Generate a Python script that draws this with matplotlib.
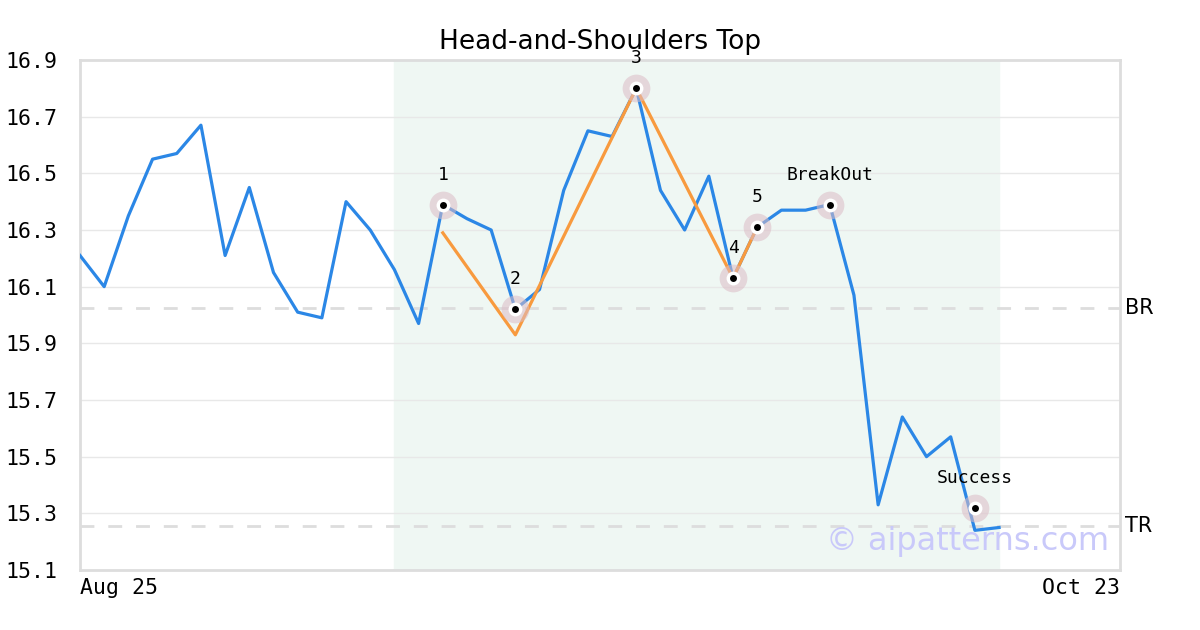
#head and shoulders top chart
import matplotlib
matplotlib.use('Agg')
import matplotlib.pyplot as plt
import numpy as np

#**************************data*************************
price = [16.21, 16.10, 16.35, 16.55, 16.57, 16.67, 16.21, 16.45, 16.15, 16.01,
         15.99, 16.40, 16.30, 16.16, 15.97, 16.39, 16.34, 16.30, 16.02, 16.09,
         16.44, 16.65, 16.63, 16.80, 16.44, 16.30, 16.49, 16.13, 16.31, 16.37,
         16.37, 16.39, 16.07, 15.33, 15.64, 15.50, 15.57, 15.24, 15.25]
pat_x = [15, 18, 23, 27, 28]
pat_y = [16.29, 15.93, 16.80, 16.13, 16.31]
mark_x = [15, 18, 23, 27, 28, 31, 37]
mark_y = [16.39, 16.02, 16.80, 16.13, 16.31, 16.39, 15.32]
mark_lab = ['1', '2', '3', '4', '5', 'BreakOut', 'Success']
br = 16.025
tr = 15.255
span = (13, 38)
yticks = [15.1, 15.3, 15.5, 15.7, 15.9, 16.1, 16.3, 16.5, 16.7, 16.9]
xlab = ['Aug 25', 'Oct 23']
nx = 43

#**************************Create graph************************************
fig = plt.figure(figsize=(12, 6.3), dpi=100)
ax = fig.add_axes([80/1200, 60/630, 1040/1200, 510/630])
x = np.arange(len(price))

ax.axvspan(span[0], span[1], color='#eff7f3', zorder=0)
for v in yticks:
    ax.axhline(v, color='#e8e8e8', lw=1, zorder=1)
ax.axhline(br, color='#dddddd', lw=2, ls=(0, (5, 5)), zorder=1)
ax.axhline(tr, color='#dddddd', lw=2, ls=(0, (5, 5)), zorder=1)

ax.plot(x, price, color='#2b87e6', lw=2.3, zorder=3)
ax.plot(pat_x, pat_y, color='#f89a3e', lw=2.3, zorder=4)

ax.plot(mark_x, mark_y, 'o', ms=20, color='#dcbcc6', alpha=0.55, mew=0, zorder=5)
ax.plot(mark_x, mark_y, 'o', ms=10, color='white', mew=0, zorder=6)
ax.plot(mark_x, mark_y, 'o', ms=5, color='black', mew=0, zorder=7)
for mx, my, lab in zip(mark_x, mark_y, mark_lab):
    ax.annotate(lab, (mx, my), xytext=(0, 15), textcoords='offset points',
                ha='center', va='bottom', family='DejaVu Sans Mono', fontsize=13, zorder=8)

ax.set_xlim(0, nx)
ax.set_ylim(15.1, 16.9)
ax.set_yticks(yticks)
ax.set_yticklabels(['%.1f' % v for v in yticks], family='DejaVu Sans Mono', fontsize=15.5)
ax.set_xticks([])
ax.tick_params(axis='y', length=0, pad=16)

ax.text(0, -0.015, xlab[0], transform=ax.transAxes, ha='left', va='top',
        family='DejaVu Sans Mono', fontsize=15.5)
ax.text(1, -0.015, xlab[1], transform=ax.transAxes, ha='right', va='top',
        family='DejaVu Sans Mono', fontsize=15.5)
ax.text(1.005, br, 'BR', transform=ax.get_yaxis_transform(), ha='left', va='center', fontsize=15)
ax.text(1.005, tr, 'TR', transform=ax.get_yaxis_transform(), ha='left', va='center', fontsize=15)
ax.text(0.99, 0.025, '\u00a9 aipatterns.com', transform=ax.transAxes, ha='right', va='bottom',
        fontsize=23, color='#c9c9fa', zorder=9)

for s in ax.spines.values():
    s.set_color('#dddddd')
    s.set_linewidth(2)
ax.set_title('Head-and-Shoulders Top', fontsize=19, pad=8)

plt.savefig('out.png')
